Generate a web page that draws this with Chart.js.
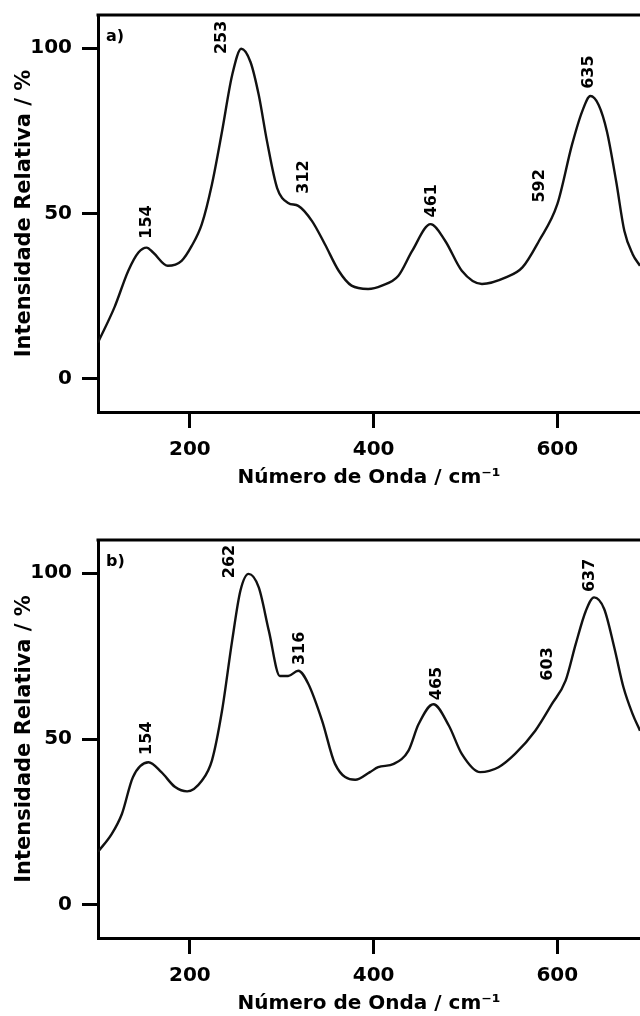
<!DOCTYPE html>
<html>
<head>
<meta charset="utf-8">
<script src="https://cdn.jsdelivr.net/npm/chart.js@4/dist/chart.umd.min.js"></script>
<style>
  html, body { margin: 0; padding: 0; background: #fff; }
  body { width: 640px; height: 1016px; overflow: hidden; position: relative; }
  canvas { position: absolute; left: 0; }
  #chartA { top: -7px; }
  #chartB { top: 490px; }
</style>
</head>
<body>
<canvas id="chartA" width="640" height="497"></canvas>
<canvas id="chartB" width="640" height="526"></canvas>
<script>
// panel a) spectrum
const waveA = [100, 118, 133, 144, 153, 160, 176, 191, 202, 213, 224, 235, 246, 256, 266, 275, 284, 295, 307, 318, 333, 347, 362, 376, 394, 409, 427, 442, 462, 478, 496, 518, 544, 562, 580, 600, 616, 627, 636, 645, 654, 664, 673, 682, 690];
const intA = [11, 21.7, 32.7, 38.2, 39.7, 38.2, 34.2, 35.7, 40.2, 46.8, 58.8, 74.8, 91.8, 99.8, 95.8, 85.8, 71.8, 57.7, 53.2, 52.3, 47.7, 40.7, 32.7, 28.2, 27.2, 28.2, 31.2, 38.7, 46.8, 41.7, 32.7, 28.7, 30.7, 33.7, 41.7, 52.8, 70.8, 80.8, 85.5, 82.8, 74.8, 59.8, 44.7, 37.7, 34.2];
const peakTextA = ['154', '253', '312', '461', '592', '635'];
const peakXA = [153.3, 235, 324.3, 463.6, 581.2, 634.5];
const peakYA = [42.4, 98.2, 56, 48.8, 53.3, 87.7];

// panel b) spectrum
const waveB = [100, 115, 126, 138, 155, 169, 184, 197, 213, 224, 235, 246, 255, 264, 275, 286, 298, 307, 318, 329, 344, 358, 380, 396, 405, 422, 438, 449, 465, 482, 496, 516, 536, 554, 576, 594, 609, 620, 631, 640, 651, 662, 672, 682, 690];
const intB = [16, 21.4, 27.4, 38.5, 43, 40, 35.5, 34.2, 37.4, 43.5, 58.5, 79.6, 94.7, 99.8, 95.7, 82.6, 69, 69, 70.6, 66.6, 55.5, 42.5, 37.7, 40, 41.5, 42.5, 46.5, 54.5, 60.5, 54, 45.5, 40, 41.5, 45.5, 52.5, 60.5, 67.6, 78.6, 88.6, 92.7, 89.2, 77.6, 65.6, 57.5, 52.5];
const peakTextB = ['154', '262', '316', '465', '603', '637'];
const peakXB = [153.3, 243.7, 319.4, 468.5, 589.3, 635];
const peakYB = [45.2, 98.5, 72.3, 61.7, 67.6, 94.3];

const xTickValues = [200, 400, 600];
const yTickValues = [0, 50, 100];
const xTitle = 'Número de Onda / cm⁻¹';
const yTitle = 'Intensidade Relativa / %';

const FONT = 'DejaVu Sans, Verdana, sans-serif';

function makeChart(id, waves, ints, tag, peakText, peakX, peakY, padTop) {
    const extras = {
        id: 'extras',
        afterDatasetsDraw(chart) {
            const ctx = chart.ctx;
            const area = chart.chartArea;
            const xs = chart.scales.x;
            const ys = chart.scales.y;
            ctx.save();
            // top frame line
            ctx.strokeStyle = '#000';
            ctx.lineWidth = 3;
            ctx.beginPath();
            ctx.moveTo(area.left - 1.5, area.top);
            ctx.lineTo(area.right, area.top);
            ctx.stroke();
            // panel tag
            ctx.fillStyle = '#000';
            ctx.font = 'bold 16px ' + FONT;
            ctx.textAlign = 'left';
            ctx.textBaseline = 'middle';
            ctx.fillText(tag, area.left + 8, area.top + 22);
            // peak labels, rotated
            ctx.font = 'bold 16px ' + FONT;
            peakText.forEach(function (t, i) {
                ctx.save();
                ctx.translate(xs.getPixelForValue(peakX[i]), ys.getPixelForValue(peakY[i]));
                ctx.rotate(-Math.PI / 2);
                ctx.textAlign = 'left';
                ctx.textBaseline = 'middle';
                ctx.fillText(t, 0, 0);
                ctx.restore();
            });
            ctx.restore();
        }
    };

    return new Chart(document.getElementById(id), {
        type: 'line',
        data: {
            datasets: [{
                data: waves.map(function (w, i) { return {x: w, y: ints[i]}; }),
                borderColor: '#111',
                borderWidth: 2.4,
                pointRadius: 0,
                fill: false,
                cubicInterpolationMode: 'monotone'
            }]
        },
        options: {
            responsive: false,
            animation: false,
            devicePixelRatio: 1,
            layout: {padding: {top: padTop, left: 0, right: 0, bottom: 0}},
            plugins: {legend: {display: false}, tooltip: {enabled: false}},
            scales: {
                x: {
                    type: 'linear',
                    min: 100,
                    max: 690,
                    afterBuildTicks: function (scale) {
                        scale.ticks = xTickValues.map(function (v) { return {value: v}; });
                    },
                    afterFit: function (scale) { scale.height = 78; },
                    grid: {drawOnChartArea: false, drawTicks: true, tickLength: 16, color: '#000', lineWidth: 3},
                    border: {display: true, color: '#000', width: 3},
                    ticks: {color: '#000', padding: 10, maxRotation: 0, font: {family: FONT, size: 20, weight: 'bold'}},
                    title: {display: true, text: xTitle, color: '#000', padding: {top: 0, bottom: 0}, font: {family: FONT, size: 20, weight: 'bold'}}
                },
                y: {
                    type: 'linear',
                    min: -10,
                    max: 110,
                    afterBuildTicks: function (scale) {
                        scale.ticks = yTickValues.map(function (v) { return {value: v}; });
                    },
                    afterFit: function (scale) { scale.width = 98; },
                    grid: {drawOnChartArea: false, drawTicks: true, tickLength: 16, color: '#000', lineWidth: 3},
                    border: {display: true, color: '#000', width: 3},
                    ticks: {color: '#000', padding: 10, font: {family: FONT, size: 20, weight: 'bold'}},
                    title: {display: true, text: yTitle, color: '#000', padding: {top: 12, bottom: 0}, font: {family: FONT, size: 21, weight: 'bold'}}
                }
            }
        },
        plugins: [extras]
    });
}

makeChart('chartA', waveA, intA, 'a)', peakTextA, peakXA, peakYA, 14);
makeChart('chartB', waveB, intB, 'b)', peakTextB, peakXB, peakYB, 50);
</script>
</body>
</html>
